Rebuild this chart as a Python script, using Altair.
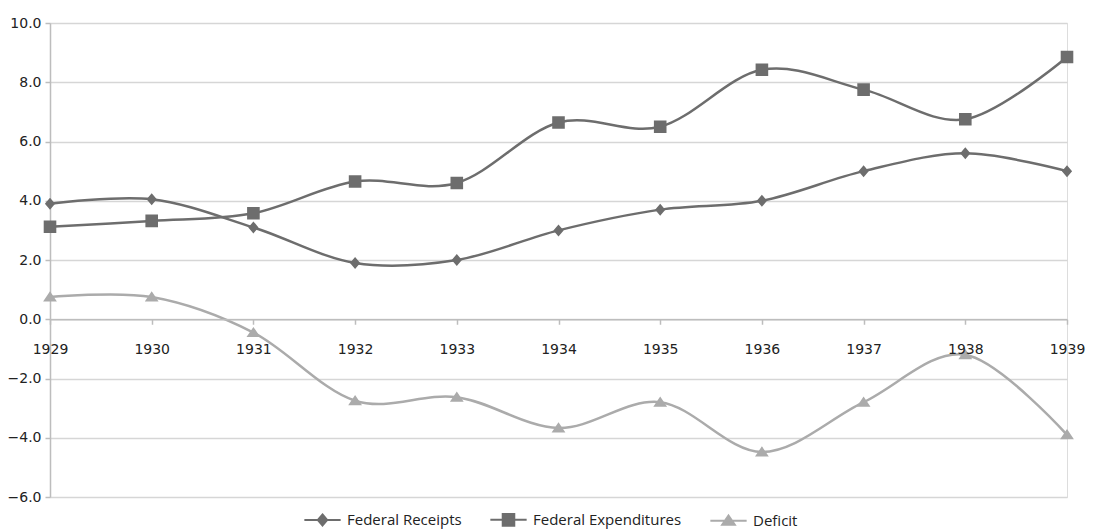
import altair as alt
import pandas as pd

years = [1929, 1930, 1931, 1932, 1933, 1934, 1935, 1936, 1937, 1938, 1939]
receipts = [3.9, 4.05, 3.1, 1.9, 2.0, 3.0, 3.7, 4.0, 5.0, 5.6, 5.0]
expenditures = [3.12, 3.32, 3.58, 4.65, 4.6, 6.64, 6.5, 8.42, 7.75, 6.75, 8.85]
deficit = [0.75, 0.75, -0.45, -2.75, -2.63, -3.67, -2.8, -4.48, -2.8, -1.2, -3.9]

series_names = ["Federal Receipts", "Federal Expenditures", "Deficit"]
series_colors = ["#6d6d6d", "#6d6d6d", "#ababab"]
y_ticks = [-6, -4, -2, 0, 2, 4, 6, 8, 10]

# marker paths (unit = sqrt(size)/2); horizontal segment only shows in legend (stroked)
shape_paths = [
    "M-3.3,0H3.3M0,-1L0.85,0L0,1L-0.85,0Z",
    "M-3.3,0H3.3M-1.05,-1.05H1.05V1.05H-1.05Z",
    "M-3.3,0H3.3M0,-0.95L1.15,0.75H-1.15Z",
]

rows = []
for name, vals in zip(series_names, [receipts, expenditures, deficit]):
    for yr, v in zip(years, vals):
        rows.append({"year": yr, "value": v, "series": name})
df = pd.DataFrame(rows)

x_enc = alt.X(
    "year:Q",
    scale=alt.Scale(domain=[years[0], years[-1]], nice=False, zero=False),
    axis=alt.Axis(
        values=years, format="d", grid=False, orient="bottom", offset=-177.75,
        domainColor="#bdbdbd", domainWidth=1.5, tickColor="#bdbdbd", tickWidth=1.5,
        tickSize=5, labelPadding=18, labelFontSize=14, labelColor="#222222",
        labelFont="DejaVu Sans", labelFlush=False, title=None, zindex=1,
    ),
)
y_enc = alt.Y(
    "value:Q",
    scale=alt.Scale(domain=[-6, 10], nice=False),
    axis=alt.Axis(
        values=y_ticks, format=".1f", gridColor="#d6d6d6", gridWidth=1.5,
        domainColor="#bdbdbd", domainWidth=1.5, tickColor="#bdbdbd", tickWidth=1.5,
        tickSize=5, labelPadding=4, labelFontSize=14, labelColor="#222222",
        labelFont="DejaVu Sans", title=None,
    ),
)
color_scale = alt.Scale(domain=series_names, range=series_colors)

lines = alt.Chart(df).mark_line(interpolate="cardinal", strokeWidth=2.5).encode(
    x=x_enc,
    y=y_enc,
    color=alt.Color("series:N", scale=color_scale, legend=None, sort=series_names),
    detail="series:N",
)

legend = alt.Legend(
    title=None, orient="none", direction="horizontal", legendX=265, legendY=489,
    labelFont="Open Sans", labelFontSize=15, labelColor="#222222",
    symbolSize=121, symbolStrokeWidth=2, labelOffset=17, columnPadding=24,
)

points = alt.Chart(df).mark_point(filled=True, opacity=1).encode(
    x=x_enc,
    y=y_enc,
    color=alt.Color("series:N", scale=color_scale, legend=legend, sort=series_names),
    stroke=alt.Stroke("series:N", scale=alt.Scale(domain=series_names, range=series_colors), legend=legend, sort=series_names),
    shape=alt.Shape("series:N", scale=alt.Scale(domain=series_names, range=shape_paths), legend=legend, sort=series_names),
    strokeWidth=alt.value(0),
    size=alt.value(144),
)

chart = alt.layer(lines, points).resolve_legend(
    color="independent", stroke="independent", shape="independent"
).properties(
    width=1017, height=474,
    autosize=alt.AutoSizeParams(type="none"),
    padding={"left": 42, "top": 15, "right": 19, "bottom": 33},
).configure_view(stroke=None).configure(background="white")

chart.save("out.html", embed_options={"renderer": "svg", "actions": False})
